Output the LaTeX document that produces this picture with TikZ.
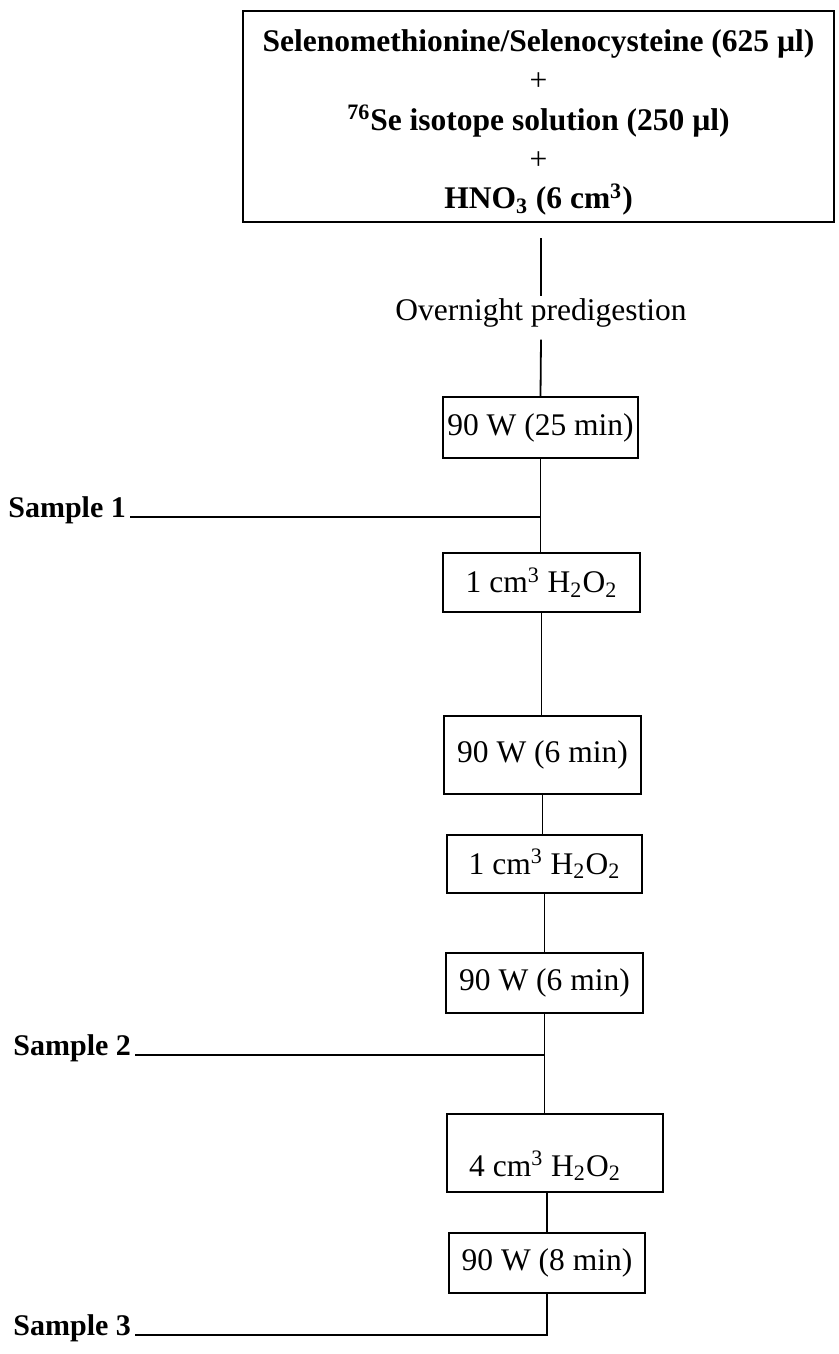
\documentclass[tikz,border=0pt]{standalone}
\usepackage{fontspec}
\setmainfont{Liberation Serif}
\begin{document}
\begin{tikzpicture}[x=0.5pt,y=-0.5pt,
  conn/.style={line width=0.9pt},
  stepbox/.style={draw,line width=1pt,inner sep=0pt,font=\fontsize{15.75}{18}\selectfont},
  smp/.style={inner sep=0pt,anchor=base west,font=\fontsize{15}{18}\selectfont\bfseries}]
\useasboundingbox (0,0) rectangle (839,1354);

\node[draw,line width=1pt,inner sep=0pt,minimum width=295.5pt,minimum height=105.5pt,align=center,
  font=\fontsize{15.75}{19.6}\selectfont\bfseries] (top) at (538.5,116.5)
  {\rule{0pt}{17pt}Selenomethionine/Selenocysteine (625 µl)\\\textmd{+}\\\textsuperscript{76}Se isotope solution (250 µl)\\\textmd{+}\\HNO\textsubscript{3} (6 cm\textsuperscript{3})};

\coordinate (c0) at (541,238);
\node[inner sep=0pt,inner ysep=1pt,font=\fontsize{15.75}{18}\selectfont] (over) at (541,313) {Overnight predigestion};

\node[stepbox,minimum width=97.5pt,minimum height=30.5pt] (A) at (540.5,427.5) {90 W (25 min)};
\node[stepbox,minimum width=98.5pt,minimum height=29.5pt] (B) at (541.5,582.5) {1 cm\textsuperscript{3} H\textsubscript{2}O\textsubscript{2}};
\node[stepbox,minimum width=98.5pt,minimum height=39pt] (C) at (542.5,755) {90 W (6 min)};
\node[stepbox,minimum width=97.5pt,minimum height=29pt] (D) at (544.5,864) {1 cm\textsuperscript{3} H\textsubscript{2}O\textsubscript{2}};
\node[stepbox,minimum width=98.5pt,minimum height=30pt] (E) at (544.5,983) {90 W (6 min)};
\node[stepbox,minimum width=108pt,minimum height=39pt] (F) at (555,1153) {};
\node[inner sep=0pt,font=\fontsize{15.75}{18}\selectfont] (Ft) at (545,1166) {4 cm\textsuperscript{3} H\textsubscript{2}O\textsubscript{2}};
\node[stepbox,minimum width=98pt,minimum height=30pt] (G) at (547,1263) {90 W (8 min)};

\node[smp] (s1) at (8,517) {Sample 1};
\node[smp] (s2) at (13,1055) {Sample 2};
\node[smp] (s3) at (13,1335) {Sample 3};

\draw[conn] (c0) -- (over.north);
\draw[conn] ([yshift=-5pt]over.south) -- (A.north);
\draw[conn] (A.south) -- (A.south |- B.north);
\draw[conn] ([xshift=2pt]s1.base east) -- (s1.base east -| A.south);
\draw[conn] (B.south) -- (B.south |- C.north);
\draw[conn] (C.south) -- (C.south |- D.north);
\draw[conn] (D.south) -- (D.south |- E.north);
\draw[conn] (E.south) -- (E.south |- F.north);
\draw[conn] ([xshift=2pt]s2.base east) -- (s2.base east -| E.south);
\draw[conn] (G.north |- F.south) -- (G.north);
\draw[conn] (G.south) -- (G.south |- s3.base east) -- ([xshift=2pt]s3.base east);
\end{tikzpicture}
\end{document}
